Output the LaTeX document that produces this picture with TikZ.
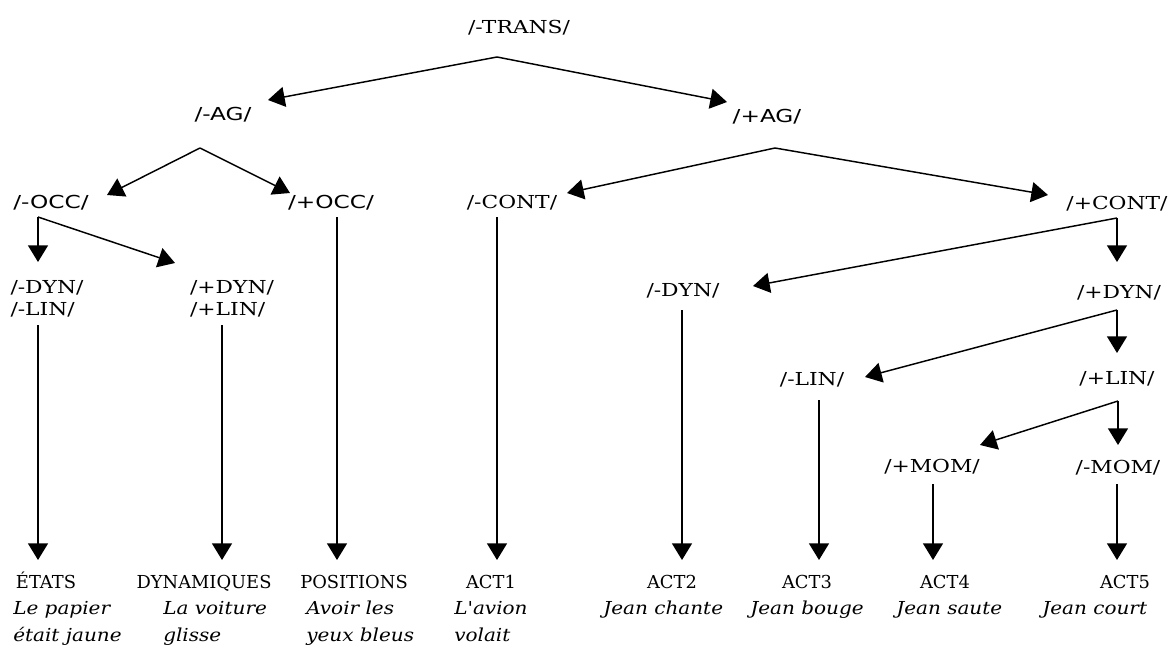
\documentclass[tikz,border=0pt]{standalone}
\usepackage{fontspec}
\setmainfont{DejaVu Serif}
\newfontfamily\featfont[FakeStretch=1.22]{DejaVu Serif}
\newfontfamily\featsans[FakeStretch=1.3]{DejaVu Sans}
\newfontfamily\examplefont[FakeStretch=1.12]{DejaVu Serif}
\usetikzlibrary{arrows.meta}
\tikzset{
  feat/.style={font=\featfont\fontsize{13.4}{16}\selectfont,inner sep=0pt,text height=10pt,text depth=2pt},
  featsf/.style={feat,font=\featsans\fontsize{13.4}{16}\selectfont},
  featpair/.style={font=\featfont\fontsize{13.4}{16.5}\selectfont,inner sep=0pt,align=left},
  leaf/.style={font=\fontsize{13.4}{16}\selectfont,inner sep=0pt,text height=10pt,text depth=2pt},
  example/.style={font=\examplefont\itshape\fontsize{13.4}{20.25}\selectfont,inner sep=0pt,align=left,anchor=north west},
  link/.style={line width=1.1pt,-{Triangle[length=12.5pt,width=15pt]}},
}

\begin{document}
\begin{tikzpicture}[x=0.75pt,y=-0.75pt]
  \useasboundingbox (0,0) rectangle (1174,650);
  % feature labels
  \node[feat]   (trans)   at (519,28)  {/-TRANS/};
  \node[featsf] (agm)     at (223,115) {/-AG/};
  \node[featsf] (agp)     at (767,117) {/+AG/};
  \node[featsf] (occm)    at (51,203)  {/-OCC/};
  \node[featsf] (occp)    at (331,203) {/+OCC/};
  \node[feat]   (contm)   at (512,203) {/-CONT/};
  \node[feat]   (contp)   at (1117,204) {/+CONT/};
  \node[featpair] (dynlinm) at (47,299)  {/-DYN/\\/-LIN/};
  \node[featpair] (dynlinp) at (232,299) {/+DYN/\\/+LIN/};
  \node[feat]   (dynm)    at (683,291) {/-DYN/};
  \node[feat]   (dynp)    at (1119,293) {/+DYN/};
  \node[feat]   (linm)    at (812,380) {/-LIN/};
  \node[feat]   (linp)    at (1117,379) {/+LIN/};
  \node[feat]   (momp)    at (932,467) {/+MOM/};
  \node[feat]   (momm)    at (1118,468) {/-MOM/};
  % classes
  \node[leaf] (etats)      at (46,583)   {ÉTATS};
  \node[leaf] (dynamiques) at (204,583)  {DYNAMIQUES};
  \node[leaf] (positions)  at (354,583)  {POSITIONS};
  \node[leaf] (act1)       at (491,583)  {ACT1};
  \node[leaf] (act2)       at (672,583)  {ACT2};
  \node[leaf] (act3)       at (807,583)  {ACT3};
  \node[leaf] (act4)       at (945,583)  {ACT4};
  \node[leaf] (act5)       at (1125,583) {ACT5};
  % examples
  \node[example] (ex-etats)      at (13,601)   {Le papier\\était jaune};
  \node[example] (ex-dynamiques) at (163,601)  {La voiture\\glisse};
  \node[example] (ex-positions)  at (306,601)  {Avoir les\\yeux bleus};
  \node[example] (ex-act1)       at (454,601)  {L'avion\\volait};
  \node[example] (ex-act2)       at (603,601)  {Jean chante};
  \node[example] (ex-act3)       at (750,601)  {Jean bouge};
  \node[example] (ex-act4)       at (896,601)  {Jean saute};
  \node[example] (ex-act5)       at (1042,601) {Jean court};
  % forks
  \coordinate (trans-fork) at ([shift={(-22,29)}]trans.center);
  \coordinate (agm-fork)   at ([shift={(-23,33)}]agm.center);
  \coordinate (agp-fork)   at ([shift={(8,31)}]agp.center);
  \coordinate (occm-fork)  at ([shift={(-13,14)}]occm.center);
  \coordinate (contp-fork) at ([shift={(0,14)}]contp.center);
  \coordinate (dynp-fork)  at ([shift={(-2,17)}]dynp.center);
  \coordinate (linp-fork)  at ([shift={(1,22)}]linp.center);
  % branches
  \draw[link] (trans-fork) -- ([shift={(45,-15)}]agm.center);
  \draw[link] (trans-fork) -- ([shift={(-40,-15)}]agp.center);
  \draw[link] (agm-fork) -- ([shift={(56,-8)}]occm.center);
  \draw[link] (agm-fork) -- ([shift={(-41,-10)}]occp.center);
  \draw[link] (agp-fork) -- ([shift={(55,-10)}]contm.center);
  \draw[link] (agp-fork) -- ([shift={(-69,-9)}]contp.center);
  \draw[link] (occm-fork) -- ([shift={(-9,-37)}]dynlinm.center);
  \draw[link] (occm-fork) -- ([shift={(-57,-36)}]dynlinp.center);
  \draw[link] (contp-fork) -- ([shift={(70,-5)}]dynm.center);
  \draw[link] (contp-fork) -- ([shift={(-2,-31)}]dynp.center);
  \draw[link] (dynp-fork) -- ([shift={(53,-3)}]linm.center);
  \draw[link] (dynp-fork) -- ([shift={(0,-26)}]linp.center);
  \draw[link] (linp-fork) -- ([shift={(48,-22)}]momp.center);
  \draw[link] (linp-fork) -- ([shift={(0,-23)}]momm.center);
  % stems
  \draw[link] ([shift={(-9,26)}]dynlinm.center) -- ([shift={(-8,-23)}]etats.center);
  \draw[link] ([shift={(-10,26)}]dynlinp.center) -- ([shift={(18,-23)}]dynamiques.center);
  \draw[link] ([shift={(6,14)}]occp.center) -- ([shift={(-17,-23)}]positions.center);
  \draw[link] ([shift={(-15,14)}]contm.center) -- ([shift={(6,-23)}]act1.center);
  \draw[link] ([shift={(-1,19)}]dynm.center) -- ([shift={(10,-23)}]act2.center);
  \draw[link] ([shift={(7,20)}]linm.center) -- ([shift={(12,-23)}]act3.center);
  \draw[link] ([shift={(1,17)}]momp.center) -- ([shift={(-12,-23)}]act4.center);
  \draw[link] ([shift={(-1,16)}]momm.center) -- ([shift={(-8,-23)}]act5.center);
\end{tikzpicture}
\end{document}
